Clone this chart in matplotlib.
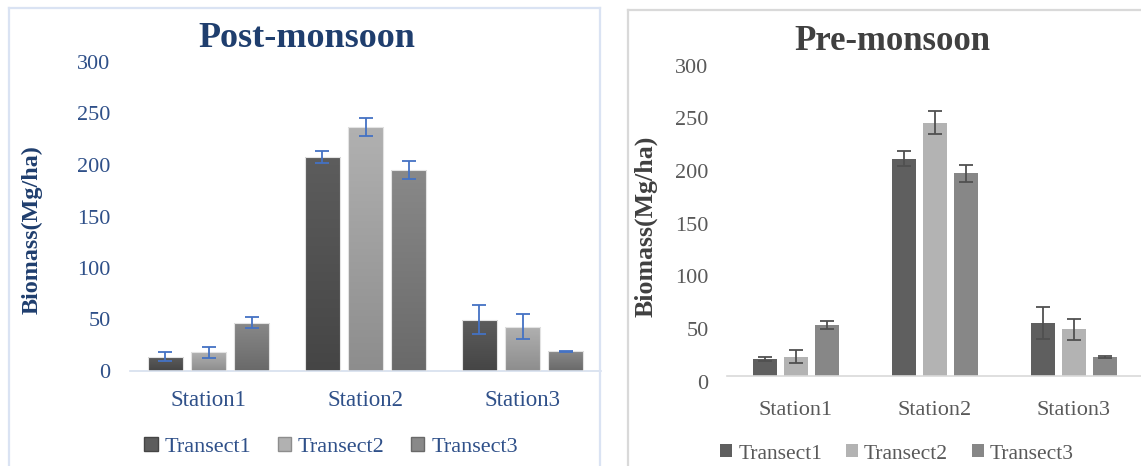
import matplotlib
matplotlib.use('Agg')
import matplotlib.pyplot as plt
import numpy as np
from matplotlib.colors import LinearSegmentedColormap
from matplotlib.lines import Line2D
from matplotlib.patches import Patch
from matplotlib.transforms import ScaledTranslation

plt.rcParams['font.family'] = ['Liberation Serif', 'DejaVu Serif']

stations = ['Station1', 'Station2', 'Station3']
transects = ['Transect1', 'Transect2', 'Transect3']

# Post-monsoon biomass (Mg/ha), rows = transects, cols = stations
post_values = [[14, 208, 50],
               [18, 237, 43],
               [47, 195, 19]]
post_errors = [[4, 6, 14],
               [5, 8.5, 12],
               [5.5, 9, 0.6]]

# Pre-monsoon biomass (Mg/ha)
pre_values = [[16, 206, 50],
              [18, 240, 44],
              [48, 192, 18]]
pre_errors = [[2, 7, 15],
              [6, 11, 10],
              [4, 8, 1]]

W, H = 1141, 466
fig = plt.figure(figsize=(W / 100, H / 100), dpi=100)


def fx(px):
    return px / W


def fy(py):
    return 1 - py / H


# panel frames
frame_kw = dict(transform=fig.transFigure, linewidth=1.6)
for xs, ys, c in [([9, 9], [8, 466], '#dae3f3'), ([9, 600], [8, 8], '#dae3f3'), ([600, 600], [8, 466], '#dae3f3'),
                  ([628, 628], [10, 466], '#d9d9d9'), ([628, 1141], [10, 10], '#d9d9d9')]:
    fig.add_artist(Line2D([fx(x) for x in xs], [fy(y) for y in ys], color=c, **frame_kw))

x = np.arange(len(stations))

# ---------------- Post-monsoon ----------------
navy = '#1f3e6e'
blue_txt = '#2f5089'
ax1 = fig.add_axes([fx(130), fy(371), fx(601 - 130), 309 / H])
grad_colors = [('#454545', '#5d5d5d'), ('#8d8d8d', '#b1b1b1'), ('#696969', '#898989')]
step, width = 0.277, 0.223
for j in range(3):
    bars = ax1.bar(x + (j - 1) * step, post_values[j], width, color='none',
                   edgecolor='#e3e3e3', linewidth=0.8, zorder=3)
    cmap = LinearSegmentedColormap.from_list('g%d' % j, grad_colors[j])
    grad = np.linspace(0, 1, 256).reshape(-1, 1)
    for b in bars:
        im = ax1.imshow(grad, extent=[b.get_x(), b.get_x() + b.get_width(), 0, b.get_height()],
                        origin='lower', aspect='auto', cmap=cmap, zorder=2)
        im.set_clip_path(b)
    ax1.errorbar(x + (j - 1) * step, post_values[j], yerr=post_errors[j], fmt='none',
                 ecolor='#4472c4', elinewidth=1.3, capsize=5, capthick=1.3, zorder=4)
ax1.set_xlim(-0.5, 2.5)
ax1.set_ylim(0, 300)
ax1.set_yticks(range(0, 301, 50))
ax1.set_xticks(x)
ax1.set_xticklabels(stations, fontsize=16.5, color=blue_txt)
ax1.tick_params(axis='x', length=0, pad=14)
ax1.tick_params(axis='y', length=0, pad=14, labelsize=16, labelcolor=blue_txt)
for s in ['top', 'right', 'left']:
    ax1.spines[s].set_visible(False)
ax1.spines['bottom'].set_color('#d6dfee')
ax1.spines['bottom'].set_linewidth(1.2)
ax1.set_ylabel('Biomass(Mg/ha)', fontsize=17.4, fontweight='bold', color=navy, va='center')
ax1.yaxis.set_label_coords(-0.208, 0.456)
fig.text(fx(307), fy(47), 'Post-monsoon', ha='center', va='baseline', fontsize=26,
         fontweight='bold', color=navy)
h1 = [Patch(facecolor=c[1], edgecolor=c[0]) for c in grad_colors]
ax1.legend(h1, transects, ncol=3, loc='center', bbox_to_anchor=(fx(331), fy(447)),
           bbox_transform=fig.transFigure, frameon=False, fontsize=16, labelcolor=blue_txt,
           handlelength=0.6, handleheight=0.6, handletextpad=0.3, columnspacing=1.2)

# ---------------- Pre-monsoon ----------------
gray_txt = '#595959'
ax2 = fig.add_axes([fx(726.5), fy(375.7), fx(1143.5 - 726.5), 316 / H])
flat_colors = ['#5f5f5f', '#b3b3b3', '#878787']
step, width = 0.223, 0.173
for j in range(3):
    ax2.bar(x + (j - 1) * step, pre_values[j], width, color=flat_colors[j], zorder=2)
    ax2.errorbar(x + (j - 1) * step, pre_values[j], yerr=pre_errors[j], fmt='none',
                 ecolor='#505050', elinewidth=1.3, capsize=4.7, capthick=1.3, zorder=3)
ax2.set_xlim(-0.5, 2.5)
ax2.set_ylim(0, 300)
ax2.set_yticks(range(0, 301, 50))
ax2.set_xticks(x)
ax2.set_xticklabels(stations, fontsize=16, color=gray_txt)
ax2.tick_params(axis='x', length=0, pad=18)
ax2.tick_params(axis='y', length=0, pad=13, labelsize=16, labelcolor=gray_txt)
off = ScaledTranslation(0, -6 / 100, fig.dpi_scale_trans)
for lbl in ax2.get_yticklabels():
    lbl.set_transform(lbl.get_transform() + off)
for s in ['top', 'right', 'left']:
    ax2.spines[s].set_visible(False)
ax2.spines['bottom'].set_color('#d9d9d9')
ax2.spines['bottom'].set_linewidth(1.2)
ax2.set_ylabel('Biomass(Mg/ha)', fontsize=18.6, fontweight='bold', color='#404040', va='center')
ax2.yaxis.set_label_coords(-0.193, 0.474)
fig.text(fx(892), fy(50), 'Pre-monsoon', ha='center', va='baseline', fontsize=25,
         fontweight='bold', color='#404040')
h2 = [Patch(facecolor=c) for c in flat_colors]
ax2.legend(h2, transects, ncol=3, loc='center', bbox_to_anchor=(fx(897), fy(454)),
           bbox_transform=fig.transFigure, frameon=False, fontsize=15.5, labelcolor=gray_txt,
           handlelength=0.55, handleheight=0.55, handletextpad=0.3, columnspacing=1.1)

fig.savefig('out.png', dpi=100)
